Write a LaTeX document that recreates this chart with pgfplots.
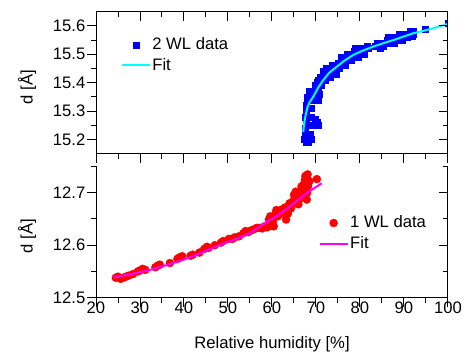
\documentclass[border=0pt]{standalone}
\usepackage{fontspec}
\setmainfont{Liberation Sans}
\usepackage{pgfplots}
\pgfplotsset{compat=1.18}
\definecolor{dblue}{RGB}{0,0,255}
\definecolor{dred}{RGB}{255,0,0}
\definecolor{fcyan}{RGB}{0,255,255}
\definecolor{fmag}{RGB}{255,0,255}
\pgfplotsset{
  markleg/.style={legend image code/.code={\draw[mark repeat=2,mark phase=2,##1] plot coordinates {(0bp,0bp)(14bp,0bp)(28bp,0bp)};}},
  lineleg/.style={legend image code/.code={\draw[##1] (0bp,0bp) -- (28bp,0bp);}},
  base/.style={
    scale only axis, width=352bp, xmin=20, xmax=100,
    clip marker paths=true,
    font=\fontsize{16.7pt}{20pt}\selectfont,
    /pgf/number format/assume math mode=true,
    axis line style={line width=1bp, black, -},
    every tick/.style={line width=1bp, black},
    major tick length=9bp, minor tick length=5bp,
    xtick={20,30,...,100}, minor xtick={25,35,...,95},
    xticklabel style={inner sep=0pt, yshift=5bp},
    yticklabel style={inner sep=0pt, xshift=-1.5bp,
      /pgf/number format/.cd, fixed, precision=1, fixed zerofill},
    legend cell align=left,
    legend style={draw=none, fill=none, inner sep=0pt, row sep=3bp,
      nodes={inner sep=1.5bp}},
  },
}
\begin{document}
\fontsize{16.7pt}{20pt}\selectfont
\begin{tikzpicture}
\path[use as bounding box] (0,0) rectangle (466bp,356bp);
% ---------- top panel ----------
\begin{axis}[base, at={(96bp,202.3bp)}, anchor=south west, height=142bp,
  ymin=15.15, ymax=15.65, ytick={15.2,15.3,15.4,15.5,15.6},
  minor ytick={15.25,15.35,15.45,15.55},
  xticklabels={}, xtick pos=bottom, ytick pos=left, tick align=outside,
  ylabel={d [Å]}, ylabel style={at={(axis description cs:-0.196,0.47)}, anchor=center},
  legend style={at={(axis description cs:0.07,0.695)}, anchor=west}]
\addplot[only marks, mark=square*, mark size=3bp, color=dblue,
  mark options={draw=dblue, fill=dblue}, markleg]
coordinates {
(67.4,15.20)(67.8,15.19)(68.3,15.19)(68.9,15.20)(67.6,15.22)(67.5,15.24)
(67.7,15.26)(67.6,15.28)(67.8,15.30)(67.7,15.32)(67.9,15.34)(68.1,15.35)
(68.4,15.37)(68.8,15.37)(69.2,15.37)(69.5,15.36)(69.3,15.34)(69.0,15.31)
(68.9,15.28)(69.1,15.25)(69.8,15.27)(70.2,15.26)(70.4,15.25)(68.6,15.22)
(70.2,15.36)(70.6,15.37)(70.4,15.34)(70.9,15.40)(71.2,15.39)(71.5,15.42)
(71.8,15.43)(72.2,15.41)(72.6,15.44)(73.0,15.45)(73.4,15.43)(73.8,15.45)
(74.2,15.46)(74.6,15.43)(75.0,15.47)(75.5,15.47)(76.0,15.48)(76.4,15.47)
(76.8,15.49)(77.2,15.48)(77.6,15.50)(78.1,15.50)(78.6,15.51)(79.2,15.50)
(79.8,15.51)(80.5,15.51)(81.2,15.52)(81.9,15.52)(83.5,15.53)(84.2,15.53)
(84.8,15.53)(85.5,15.54)(86.2,15.55)(86.8,15.54)(87.4,15.55)(88.0,15.56)
(88.6,15.56)(89.2,15.56)(89.8,15.56)(90.4,15.57)(91.0,15.57)(91.6,15.58)
(92.0,15.57)(94.8,15.59)(100.0,15.61)
(69.8,15.39)(70.3,15.40)(70.6,15.41)(71.0,15.42)(71.6,15.44)(72.3,15.45)
(70.0,15.38)(70.8,15.36)(72.4,15.42)(73.2,15.42)(73.6,15.46)(74.4,15.44)
(75.2,15.45)(75.8,15.49)(76.6,15.46)(77.0,15.50)(78.0,15.48)(78.9,15.52)
(79.5,15.49)(80.2,15.52)(81.0,15.50)(81.6,15.53)(83.8,15.54)(84.5,15.52)
(85.2,15.53)(86.0,15.54)(86.5,15.56)(87.8,15.54)(88.4,15.55)(89.0,15.57)
(89.6,15.55)(90.8,15.56)(91.3,15.58)(91.8,15.565)(92.2,15.58)
};
\addlegendentry{2 WL data}
\addplot[color=fcyan, line width=2bp, lineleg]
coordinates {
(67.1,15.227)(67.3,15.255)(67.5,15.275)(68.0,15.310)(68.5,15.330)(69.4,15.351)
(70.5,15.383)(71.7,15.410)(73.0,15.435)(74.7,15.456)(76.5,15.478)(78.5,15.498)
(80.5,15.512)(83.0,15.527)(85.3,15.539)(87.6,15.550)(90.0,15.563)(92.1,15.574)
(94.5,15.583)(96.7,15.592)(100.0,15.607)
};
\addlegendentry{Fit}
\end{axis}
\begin{axis}[base, at={(96bp,202.3bp)}, anchor=south west, height=142bp,
  ymin=15.15, ymax=15.65, ytick={15.2,15.3,15.4,15.5,15.6},
  minor ytick={15.25,15.35,15.45,15.55},
  xticklabels={}, yticklabels={}, xtick pos=top, ytick pos=right, tick align=inside]
\end{axis}
% ---------- bottom panel ----------
\begin{axis}[base, at={(96bp,58.3bp)}, anchor=south west, height=131.2bp,
  ymin=12.5, ymax=12.75, ytick={12.5,12.6,12.7}, minor ytick={12.55,12.65,12.75},
  axis x line*=bottom, axis y line*=left, tick align=outside,
  xlabel={Relative humidity [\%]},
  xlabel style={at={(axis description cs:0.5,0)}, anchor=base, yshift=-50.6bp},
  ylabel={d [Å]}, ylabel style={at={(axis description cs:-0.196,0.47)}, anchor=center},
  legend style={at={(axis description cs:0.632,0.491)}, anchor=west}]
\addplot[only marks, mark=*, mark size=4bp, color=dred,
  mark options={draw=dred, fill=dred}, markleg]
coordinates {
(24.5,12.538)(25.0,12.540)(25.6,12.536)(26.2,12.538)(26.8,12.540)(27.4,12.542)
(30.0,12.552)(30.6,12.555)(31.2,12.553)(33.5,12.558)(34.0,12.561)(34.5,12.563)
(38.5,12.574)(39.0,12.577)(39.6,12.579)(41.5,12.580)(42.0,12.582)(44.6,12.593)
(45.2,12.597)(45.6,12.595)(48.4,12.605)(48.9,12.608)(51.0,12.612)(51.5,12.615)
(53.5,12.623)(54.0,12.627)(54.6,12.625)(55.2,12.628)(55.8,12.630)(56.5,12.633)
(57.2,12.633)(57.8,12.632)(58.3,12.636)(58.9,12.634)(59.3,12.649)(60.0,12.637)
(60.4,12.636)(61.0,12.667)(61.6,12.664)(62.2,12.668)(62.8,12.665)(63.2,12.649)
(63.8,12.672)(64.3,12.670)(64.8,12.684)(65.2,12.690)(65.6,12.700)(66.0,12.695)
(66.5,12.693)(66.0,12.678)(66.8,12.705)(67.2,12.716)(67.6,12.732)(67.9,12.726)
(68.2,12.713)(67.9,12.687)(68.0,12.700)(70.2,12.726)
(59.6,12.655)(60.8,12.660)(61.3,12.655)(62.0,12.660)(63.0,12.672)(63.5,12.668)
(64.0,12.680)(64.5,12.676)(65.0,12.696)(65.4,12.702)(66.2,12.700)(66.7,12.712)
(67.0,12.700)(67.4,12.708)(67.5,12.725)(68.1,12.735)(68.5,12.722)(66.3,12.688)
(63.6,12.660)(60.2,12.645)(52.5,12.617)(50.2,12.612)(47.0,12.600)(43.5,12.586)
(36.8,12.566)(29.5,12.550)(28.4,12.545)
};
\addlegendentry{1 WL data}
\addplot[color=fmag, line width=2bp, lineleg]
coordinates {
(24.0,12.539)(28.0,12.545)(32.3,12.553)(36.0,12.562)(39.8,12.572)(43.5,12.584)
(47.4,12.598)(51.2,12.610)(55.0,12.623)(58.0,12.640)(61.1,12.656)(63.5,12.670)
(65.6,12.684)(68.0,12.700)(71.3,12.718)
};
\addlegendentry{Fit}
\end{axis}
\begin{axis}[base, at={(96bp,58.3bp)}, anchor=south west, height=131.2bp,
  ymin=12.5, ymax=12.75, ytick={12.5,12.6,12.7}, minor ytick={12.55,12.65,12.75},
  axis x line=none, axis y line*=right, xtick=\empty, yticklabels={},
  ytick pos=right, tick align=inside]
\end{axis}
\end{tikzpicture}
\end{document}
